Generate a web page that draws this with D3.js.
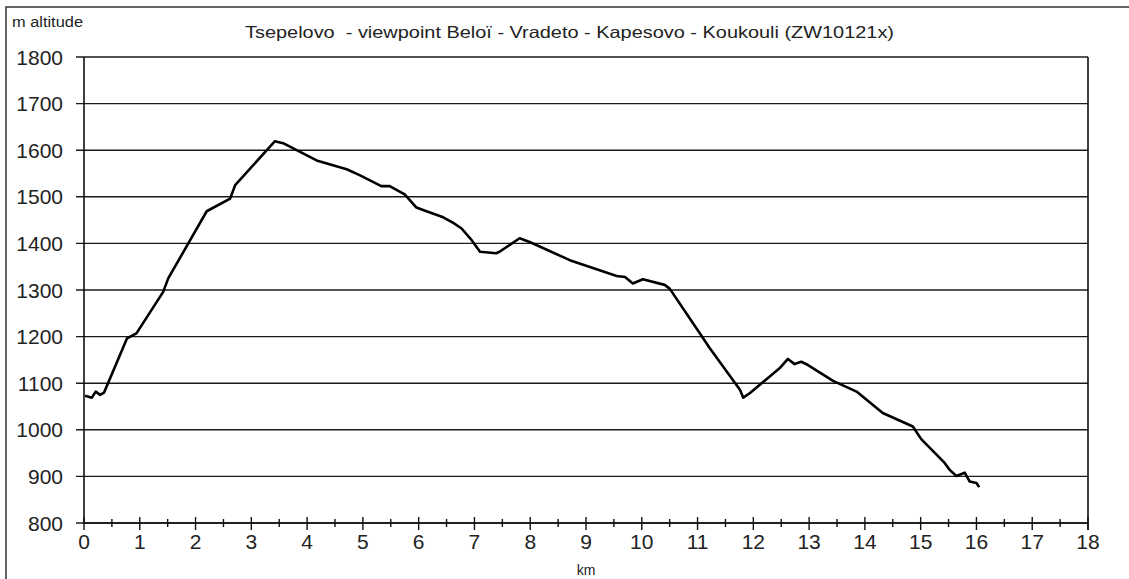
<!DOCTYPE html>
<html lang="en">
<head>
  <meta charset="UTF-8">
  <title>Tsepelovo - Koukouli</title>
  <script src="https://d3js.org/d3.v7.min.js"></script>
  <style>
    body { margin: 0; background: #fff; }
    svg { display: block; font-family: "Liberation Sans", Arial, sans-serif; }
  </style>
</head>
<body>
  <svg></svg>
<script>
  const distKm = [0.02, 0.14, 0.21, 0.29, 0.36, 0.77, 0.94, 1.42, 1.51, 1.87, 2.20, 2.62, 2.71,
    3.42, 3.57, 4.17, 4.71, 4.95, 5.33, 5.48, 5.75, 5.96, 6.14, 6.44, 6.62, 6.77, 6.95, 7.10,
    7.39, 7.45, 7.81, 7.99, 8.71, 9.55, 9.70, 9.84, 10.02, 10.41, 10.50, 11.04, 11.22, 11.76,
    11.82, 11.94, 12.47, 12.62, 12.74, 12.86, 12.98, 13.43, 13.85, 14.32, 14.86, 15.01, 15.43,
    15.52, 15.64, 15.79, 15.88, 16.00, 16.05];
  const altitude = [1073, 1069, 1082, 1075, 1080, 1196, 1207, 1296, 1325, 1400, 1469, 1496, 1525,
    1619, 1615, 1578, 1559, 1546, 1523, 1523, 1505, 1477, 1469, 1456, 1444, 1432, 1407, 1382,
    1379, 1382, 1411, 1403, 1364, 1330, 1328, 1314, 1323, 1311, 1303, 1207, 1175, 1086,
    1069, 1079, 1132, 1152, 1141, 1146, 1139, 1105, 1082, 1036, 1007, 980, 929,
    914, 901, 908, 889, 886, 877];

  const yTicks = [800, 900, 1000, 1100, 1200, 1300, 1400, 1500, 1600, 1700, 1800];
  const xTicks = d3.range(0, 19, 1);
  const xMinorTicks = d3.range(0.5, 18, 1);

  const titleText = "Tsepelovo  - viewpoint Beloï - Vradeto - Kapesovo - Koukouli (ZW10121x)";
  const yLabel = "m altitude";
  const xLabel = "km";

  const W = 1129, H = 579;
  const plotL = 84, plotR = 1088, plotT = 57, plotB = 523;

  const svg = d3.select("svg").attr("width", W).attr("height", H);

  const x = d3.scaleLinear().domain([0, 18]).range([plotL, plotR]);
  const y = d3.scaleLinear().domain([800, 1800]).range([plotB, plotT]);

  // Rahmen (rechts und unten abgeschnitten)
  svg.append("rect")
    .attr("x", 6).attr("y", 7).attr("width", W + 10).attr("height", H + 10)
    .attr("fill", "none").attr("stroke", "#333").attr("stroke-width", 1.5);

  // Gitterlinien
  svg.append("g").selectAll("line").data(yTicks).join("line")
    .attr("x1", plotL - 8).attr("x2", plotR)
    .attr("y1", d => y(d)).attr("y2", d => y(d))
    .attr("stroke", "#1a1a1a").attr("stroke-width", 1.4);

  // Achsen
  svg.append("line").attr("x1", plotL).attr("x2", plotL).attr("y1", plotT).attr("y2", plotB)
    .attr("stroke", "#111").attr("stroke-width", 1.6);
  svg.append("line").attr("x1", plotR).attr("x2", plotR).attr("y1", plotT).attr("y2", plotB + 7)
    .attr("stroke", "#111").attr("stroke-width", 1.6);
  svg.append("line").attr("x1", plotL).attr("x2", plotR).attr("y1", plotB).attr("y2", plotB)
    .attr("stroke", "#111").attr("stroke-width", 1.6);

  svg.append("g").selectAll("line").data(xTicks).join("line")
    .attr("x1", d => x(d)).attr("x2", d => x(d))
    .attr("y1", plotB - 6).attr("y2", plotB + 7)
    .attr("stroke", "#111").attr("stroke-width", 1.4);
  svg.append("g").selectAll("line").data(xMinorTicks).join("line")
    .attr("x1", d => x(d)).attr("x2", d => x(d))
    .attr("y1", plotB - 4).attr("y2", plotB + 4)
    .attr("stroke", "#111").attr("stroke-width", 1.4);

  // Beschriftungen
  svg.append("g").selectAll("text").data(yTicks).join("text")
    .attr("x", 63).attr("y", d => y(d) + 7.5)
    .attr("text-anchor", "end").attr("font-size", 21).attr("fill", "#222")
    .text(d => d);

  svg.append("g").selectAll("text").data(xTicks).join("text")
    .attr("x", d => x(d)).attr("y", 549)
    .attr("text-anchor", "middle").attr("font-size", 21).attr("fill", "#222")
    .text(d => d);

  svg.append("text").attr("x", x(9)).attr("y", 575)
    .attr("text-anchor", "middle").attr("font-size", 14).attr("fill", "#222")
    .text(xLabel);

  // Text im Original ist etwas in die Breite gezogen
  svg.append("text").attr("x", 12).attr("y", 27)
    .attr("font-size", 14).attr("fill", "#222")
    .attr("textLength", 71).attr("lengthAdjust", "spacingAndGlyphs")
    .text(yLabel);

  svg.append("text").attr("x", 245).attr("y", 38)
    .attr("font-size", 16.5).attr("fill", "#222")
    .attr("textLength", 649).attr("lengthAdjust", "spacingAndGlyphs")
    .style("white-space", "pre")
    .text(titleText);

  // Profil
  const points = distKm.map((d, i) => [d, altitude[i]]);
  svg.append("path")
    .datum(points)
    .attr("fill", "none").attr("stroke", "#000").attr("stroke-width", 2.6)
    .attr("stroke-linejoin", "round")
    .attr("d", d3.line().x(d => x(d[0])).y(d => y(d[1])));
</script>
</body>
</html>
